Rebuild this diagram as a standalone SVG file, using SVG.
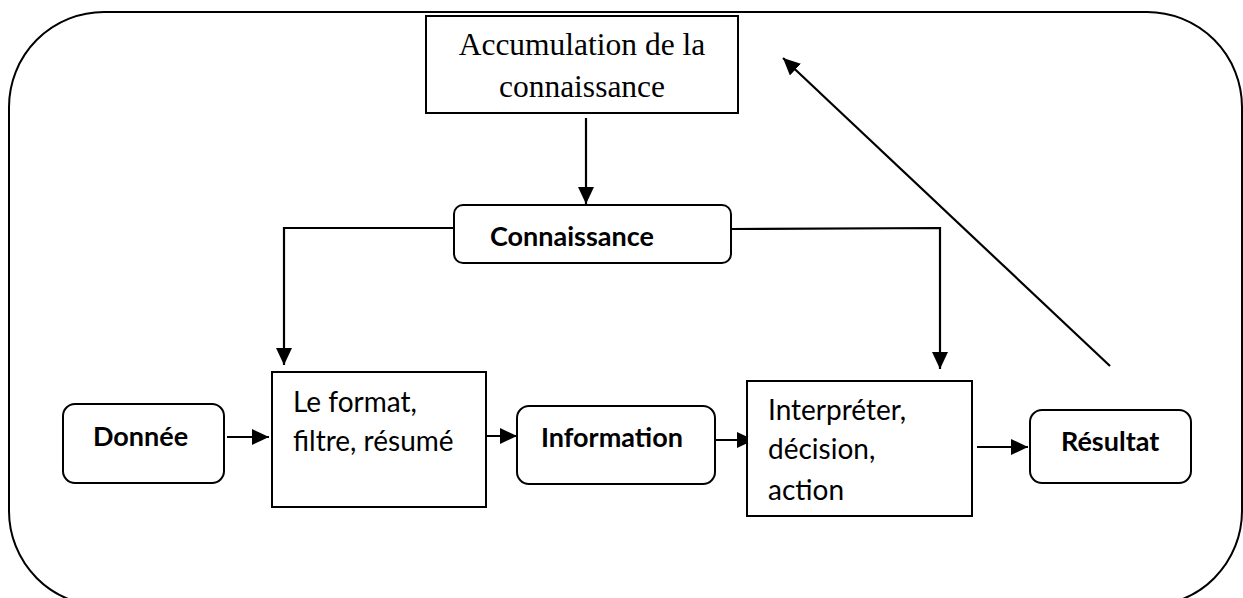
<svg xmlns="http://www.w3.org/2000/svg" width="1243" height="598" viewBox="0 0 1243 598">
  <style>
    .frame { fill: none; stroke: #000; stroke-width: 2; }
    .box { fill: #fff; stroke: #000; stroke-width: 2; }
    .link { fill: none; stroke: #000; stroke-width: 2.2; }
    .serif { font-family: "Liberation Serif", "Times New Roman", serif; font-size: 31.5px; fill: #000; }
    .label { font-family: Lato, "Open Sans", sans-serif; font-size: 28px; fill: #000; }
    .bold { font-family: Lato, "Open Sans", sans-serif; font-size: 27px; font-weight: bold; fill: #000; }
  </style>
  <defs>
    <marker id="arrow" viewBox="0 0 10 10" refX="10" refY="5" markerUnits="userSpaceOnUse" markerWidth="17" markerHeight="16" orient="auto" preserveAspectRatio="none">
      <path d="M0,0 L10,5 L0,10 Z" fill="#000"/>
    </marker>
  </defs>

  <rect width="1243" height="598" fill="#fff"/>

  <!-- outer frame -->
  <rect class="frame" x="9" y="12" width="1233" height="594" rx="95" ry="95"/>

  <!-- connectors -->
  <g id="connectors">
    <line class="link" x1="586" y1="118" x2="586" y2="204" marker-end="url(#arrow)"/>
    <polyline class="link" points="454,228 284,228 284,365" marker-end="url(#arrow)"/>
    <polyline class="link" points="731,229 940,228 940,369" marker-end="url(#arrow)"/>
    <line class="link" x1="227" y1="437" x2="269" y2="437" marker-end="url(#arrow)"/>
    <line class="link" x1="483" y1="436" x2="517" y2="436" marker-end="url(#arrow)"/>
    <line class="link" x1="715" y1="440" x2="754" y2="440" marker-end="url(#arrow)"/>
    <line class="link" x1="977" y1="447" x2="1028" y2="447" marker-end="url(#arrow)"/>
    <line class="link" x1="1110" y1="366" x2="783" y2="58" marker-end="url(#arrow)"/>
  </g>

  <!-- nodes -->
  <g id="accumulation">
    <rect class="box" x="426" y="16" width="312" height="97"/>
    <text class="serif" x="582" y="55" text-anchor="middle">Accumulation de la</text>
    <text class="serif" x="582" y="97" text-anchor="middle">connaissance</text>
  </g>

  <g id="connaissance">
    <rect class="box" x="454" y="205" width="277" height="58" rx="9" ry="9"/>
    <text class="bold" x="490" y="246">Connaissance</text>
  </g>

  <g id="donnee">
    <rect class="box" x="63" y="404" width="161" height="79" rx="12" ry="12"/>
    <text class="bold" x="93" y="446">Donnée</text>
  </g>

  <g id="traitement">
    <rect class="box" x="272" y="372" width="214" height="135"/>
    <text class="label" x="293" y="412">Le format,</text>
    <text class="label" x="293" y="451">filtre, résumé</text>
  </g>

  <g id="information">
    <rect class="box" x="517" y="406" width="198" height="78" rx="12" ry="12"/>
    <text class="bold" x="541" y="447">Information</text>
  </g>

  <g id="interpretation">
    <rect class="box" x="747" y="381" width="225" height="135"/>
    <text class="label" x="768" y="420">Interpréter,</text>
    <text class="label" x="768" y="459">décision,</text>
    <text class="label" x="768" y="500">action</text>
  </g>

  <g id="resultat">
    <rect class="box" x="1030" y="410" width="161" height="73" rx="12" ry="12"/>
    <text class="bold" x="1061" y="451">Résultat</text>
  </g>
</svg>
